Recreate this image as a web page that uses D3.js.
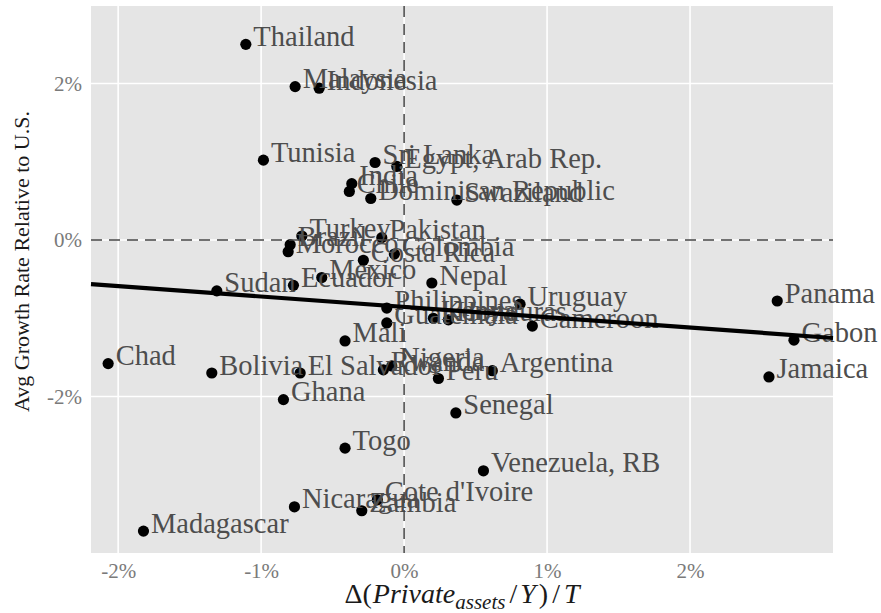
<!DOCTYPE html>
<html>
<head>
<meta charset="utf-8">
<script src="https://cdn.jsdelivr.net/npm/d3@7"></script>
<style>
  html, body { margin: 0; padding: 0; background: #ffffff; }
  svg { display: block; }
  text { font-family: "Liberation Serif", "DejaVu Serif", serif; }
</style>
</head>
<body>
<svg id="chart" width="881" height="613"></svg>
<script>
// ---- data (percent units) ----
const countries = ["Thailand","Malaysia","Indonesia","Tunisia","Sri Lanka","Egypt, Arab Rep.","India","Chile","Dominican Republic","Swaziland",
  "Turkey","Brazil","Morocco","Pakistan","Colombia","Costa Rica","Mexico","Ecuador","Sudan","Nepal",
  "Philippines","Guatemala","Kenya","Honduras","Uruguay","Cameroon","Mali","Bolivia","El Salvador","Rwanda",
  "Nigeria","Peru","Argentina","Chad","Ghana","Senegal","Togo","Venezuela, RB","Cote d'Ivoire","Zambia",
  "Nicaragua","Madagascar","Panama","Gabon","Jamaica"];
const xVals = [-1.107,-0.762,-0.594,-0.984,-0.203,-0.051,-0.366,-0.383,-0.233,0.369,
  -0.715,-0.797,-0.811,-0.156,-0.068,-0.285,-0.576,-0.774,-1.310,0.194,
  -0.121,-0.121,0.205,0.310,0.811,0.897,-0.413,-1.345,-0.727,-0.145,
  -0.086,0.240,0.617,-2.070,-0.844,0.362,-0.413,0.555,-0.187,-0.296,
  -0.767,-1.823,2.610,2.727,2.552];
const yVals = [2.50,1.96,1.94,1.02,0.99,0.94,0.72,0.62,0.53,0.51,
  0.05,-0.06,-0.15,0.03,-0.18,-0.26,-0.48,-0.58,-0.65,-0.55,
  -0.87,-1.06,-1.00,-1.02,-0.82,-1.10,-1.29,-1.70,-1.70,-1.66,
  -1.61,-1.77,-1.67,-1.58,-2.04,-2.21,-2.66,-2.95,-3.32,-3.46,
  -3.41,-3.72,-0.78,-1.28,-1.75];
const xTicks = [-2,-1,0,1,2];
const yTicks = [-2,0,2];
const xTickLabels = ["-2%","-1%","0%","1%","2%"];
const yTickLabels = ["-2%","0%","2%"];
const yTitle = "Avg Growth Rate Relative to U.S.";

// ---- layout ----
const svg = d3.select("#chart");
const P = {left: 91, right: 833, top: 6, bottom: 553};
const x = d3.scaleLinear().domain([-2.19, 3.0]).range([P.left, P.right]);
const y = d3.scaleLinear().domain([-4.0, 2.99]).range([P.bottom, P.top]);

// panel
svg.append("rect").attr("x", P.left).attr("y", P.top)
  .attr("width", P.right - P.left).attr("height", P.bottom - P.top)
  .attr("fill", "#e5e5e5");

// grid
const grid = svg.append("g");
grid.selectAll("line.gx").data(xTicks).join("line")
  .attr("x1", d => x(d)).attr("x2", d => x(d))
  .attr("y1", P.top).attr("y2", P.bottom)
  .attr("stroke", "#ffffff").attr("stroke-width", 1.6);
grid.selectAll("line.gy").data(yTicks).join("line")
  .attr("y1", d => y(d)).attr("y2", d => y(d))
  .attr("x1", P.left).attr("x2", P.right)
  .attr("stroke", "#ffffff").attr("stroke-width", 1.6);

// axes (tick labels only)
const xAxis = d3.axisBottom(x).tickValues(xTicks).tickFormat((d, i) => xTickLabels[i]).tickSize(0).tickPadding(10);
const gx = svg.append("g").attr("transform", `translate(0,${P.bottom})`).call(xAxis);
gx.select(".domain").remove();
gx.selectAll("text").attr("font-size", 21).attr("fill", "#7a7a7a")
  .attr("font-family", "Liberation Serif");

const yAxis = d3.axisLeft(y).tickValues(yTicks).tickFormat(d => yTickLabels[yTicks.indexOf(d)]).tickSize(0).tickPadding(9);
const gy = svg.append("g").attr("transform", `translate(${P.left},0)`).call(yAxis);
gy.select(".domain").remove();
gy.selectAll("text").attr("font-size", 21).attr("fill", "#7a7a7a")
  .attr("font-family", "Liberation Serif");

// points
const data = countries.map((c, i) => ({c, x: xVals[i], y: yVals[i]}));
svg.append("g").selectAll("circle").data(data).join("circle")
  .attr("cx", d => x(d.x)).attr("cy", d => y(d.y)).attr("r", 5.6)
  .attr("fill", "#000000");

// labels
svg.append("g").selectAll("text").data(data).join("text")
  .attr("x", d => x(d.x) + 7.5).attr("y", d => y(d.y) + 1.5)
  .attr("font-size", 28.5).attr("fill", "#4d4d4d")
  .text(d => d.c);

// reference dashed lines
svg.append("line").attr("x1", x(0)).attr("x2", x(0)).attr("y1", P.top).attr("y2", P.bottom)
  .attr("stroke", "#444").attr("stroke-width", 1.5).attr("stroke-dasharray", "11,7");
svg.append("line").attr("y1", y(0)).attr("y2", y(0)).attr("x1", P.left).attr("x2", P.right)
  .attr("stroke", "#444").attr("stroke-width", 1.5).attr("stroke-dasharray", "11,7");

// OLS fit line across full panel
const mx = d3.mean(xVals), my = d3.mean(yVals);
let sxy = 0, sxx = 0;
xVals.forEach((v, i) => { sxy += (v - mx) * (yVals[i] - my); sxx += (v - mx) * (v - mx); });
const slope = sxy / sxx, intercept = my - slope * mx;
const xd = x.domain();
svg.append("line")
  .attr("x1", x(xd[0])).attr("y1", y(intercept + slope * xd[0]))
  .attr("x2", x(xd[1])).attr("y2", y(intercept + slope * xd[1]))
  .attr("stroke", "#000").attr("stroke-width", 4.2);

// axis titles
svg.append("text")
  .attr("transform", `translate(29,${(P.top + P.bottom) / 2 - 18}) rotate(-90)`)
  .attr("text-anchor", "middle").attr("font-size", 22).attr("fill", "#1a1a1a")
  .text(yTitle);

const xt = svg.append("text").attr("x", (P.left + P.right) / 2).attr("y", 603)
  .attr("text-anchor", "middle").attr("font-size", 28).attr("fill", "#1a1a1a");
xt.append("tspan").text("\u0394(");
xt.append("tspan").attr("font-style", "italic").attr("dx", 1).text("Private");
xt.append("tspan").attr("font-style", "italic").attr("font-size", 21).attr("dy", 6).text("assets");
xt.append("tspan").attr("dy", -6).attr("dx", 4).text("/");
xt.append("tspan").attr("font-style", "italic").attr("dx", 3).text("Y");
xt.append("tspan").attr("dx", 3).text(")");
xt.append("tspan").attr("dx", 4).text("/");
xt.append("tspan").attr("font-style", "italic").attr("dx", 4).text("T");
</script>
</body>
</html>
